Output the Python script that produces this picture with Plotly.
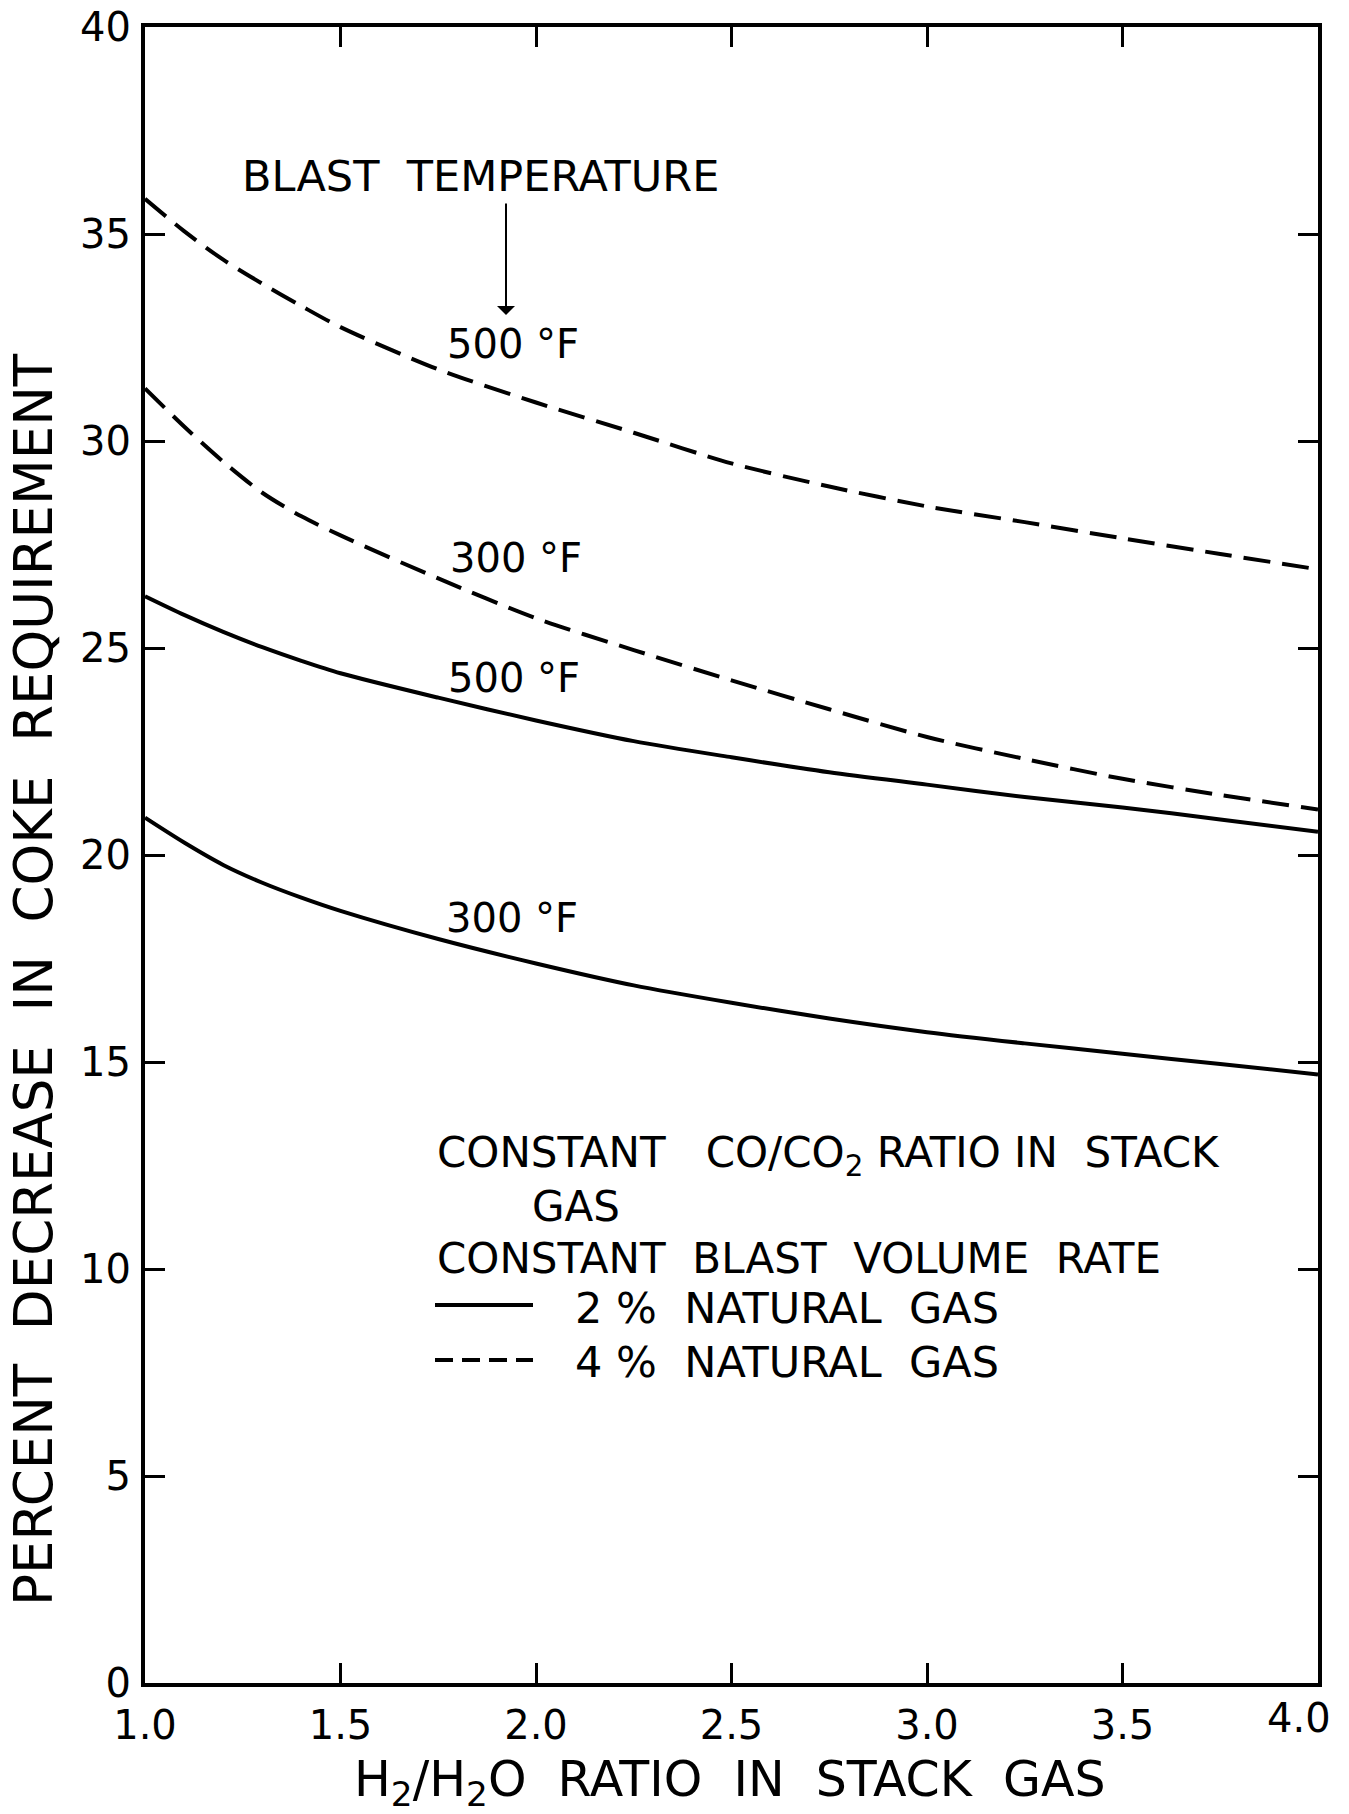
import plotly.graph_objects as go

# ---------------- data ----------------
h2_ratio = [1.0, 1.1, 1.2, 1.3, 1.4, 1.5, 1.75, 2.0, 2.25, 2.5, 2.75, 3.0, 3.25, 3.5, 3.75, 4.0]

gas4_500F = [35.85, 35.07, 34.38, 33.8, 33.26, 32.75, 31.73, 30.93, 30.2, 29.46, 28.9, 28.42, 28.04, 27.65, 27.27, 26.9]
gas4_300F = [31.27, 30.35, 29.5, 28.75, 28.18, 27.72, 26.68, 25.72, 24.95, 24.22, 23.52, 22.85, 22.32, 21.84, 21.45, 21.1]
gas2_500F = [26.25, 25.8, 25.39, 25.02, 24.69, 24.39, 23.8, 23.25, 22.75, 22.36, 22.0, 21.7, 21.4, 21.15, 20.86, 20.56]
gas2_300F = [20.9, 20.3, 19.76, 19.33, 18.97, 18.65, 17.97, 17.38, 16.85, 16.43, 16.05, 15.72, 15.45, 15.2, 14.95, 14.7]

x_ticks = [1.0, 1.5, 2.0, 2.5, 3.0, 3.5, 4.0]
x_ticklabels = ["1.0", "1.5", "2.0", "2.5", "3.0", "3.5", "4.0"]
y_ticks = [0, 5, 10, 15, 20, 25, 30, 35, 40]

FONT = "DejaVu Sans"
W, H = 1349, 1814
L, R, T, B = 145, 31, 27, 131
PW, PH = W - L - R, H - T - B


def px(xp):
    return (xp - L) / PW


def py(yp):
    return (H - B - yp) / PH


fig = go.Figure()

series = [
    (gas4_500F, "dash"),
    (gas4_300F, "dash"),
    (gas2_500F, "solid"),
    (gas2_300F, "solid"),
]
for ys, dash in series:
    fig.add_trace(go.Scatter(
        x=h2_ratio, y=ys, mode="lines",
        line=dict(color="black", width=4, shape="spline", smoothing=0.8,
                  dash="27px,12px" if dash == "dash" else "solid"),
        showlegend=False, hoverinfo="skip",
    ))

ann = []


def text(xp, yp, s, size=40, xanchor="left", angle=0):
    ann.append(dict(x=px(xp), y=py(yp), xref="paper", yref="paper", text=s,
                    showarrow=False, xanchor=xanchor, yanchor="middle",
                    textangle=angle,
                    font=dict(family=FONT, size=size, color="black")))


text(240, 176, "BLAST  TEMPERATURE", size=43)
text(445, 344, "500 °F", size=40)
text(448, 558, "300 °F", size=40)
text(446, 678, "500 °F", size=40)
text(444, 918, "300 °F", size=40)

text(435, 1155, "CONSTANT   CO/CO<sub>2</sub> RATIO IN  STACK", size=42)
text(530, 1206, "GAS", size=42)
text(435, 1258, "CONSTANT  BLAST  VOLUME  RATE", size=42)
text(573, 1308, "2 %  NATURAL  GAS", size=43)
text(573, 1362, "4 %  NATURAL  GAS", size=43)

# last x tick label sits just inside the right edge, as in the reference
text(1299, 1718, x_ticklabels[-1], size=40, xanchor="center")

# axis titles
text(33, 980, "PERCENT  DECREASE  IN  COKE  REQUIREMENT", size=53,
     xanchor="center", angle=-90)
text(730, 1782, "H<sub>2</sub>/H<sub>2</sub>O  RATIO  IN  STACK  GAS", size=49,
     xanchor="center")

# arrow from the "BLAST TEMPERATURE" note down to the 500 °F label
ann.append(dict(x=px(506), y=py(315), ax=0, ay=-(315 - 202),
                xref="paper", yref="paper", axref="pixel", ayref="pixel",
                text="", showarrow=True, arrowhead=1, arrowsize=1.5,
                arrowwidth=2, arrowcolor="black"))

shapes = [
    dict(type="line", xref="paper", yref="paper", x0=px(435), x1=px(533),
         y0=py(1305), y1=py(1305), line=dict(color="black", width=4)),
    dict(type="line", xref="paper", yref="paper", x0=px(435), x1=px(533),
         y0=py(1360), y1=py(1360),
         line=dict(color="black", width=4, dash="18px,9px")),
]

axis_common = dict(
    showline=True, linewidth=4, linecolor="black", mirror="ticks",
    ticks="inside", ticklen=20, tickwidth=2.5, tickcolor="black",
    showgrid=False, zeroline=False, automargin=False,
    tickfont=dict(family=FONT, size=40, color="black"),
)

fig.update_layout(
    width=W, height=H, autosize=False,
    margin=dict(l=L, r=R, t=T, b=B, autoexpand=False),
    paper_bgcolor="white", plot_bgcolor="white",
    xaxis=dict(range=[1.0, 4.0], tickvals=x_ticks,
               ticktext=x_ticklabels[:-1] + [""],
               ticklabelstandoff=4, **axis_common),
    yaxis=dict(range=[0, 40], tickvals=y_ticks,
               ticktext=[str(v) for v in y_ticks],
               ticklabelstandoff=2, **axis_common),
    annotations=ann, shapes=shapes, showlegend=False,
)

fig.write_html("out.html", config={"displayModeBar": False},
               post_script="document.body.style.margin='0px';"
                           "document.body.style.overflow='hidden';")
